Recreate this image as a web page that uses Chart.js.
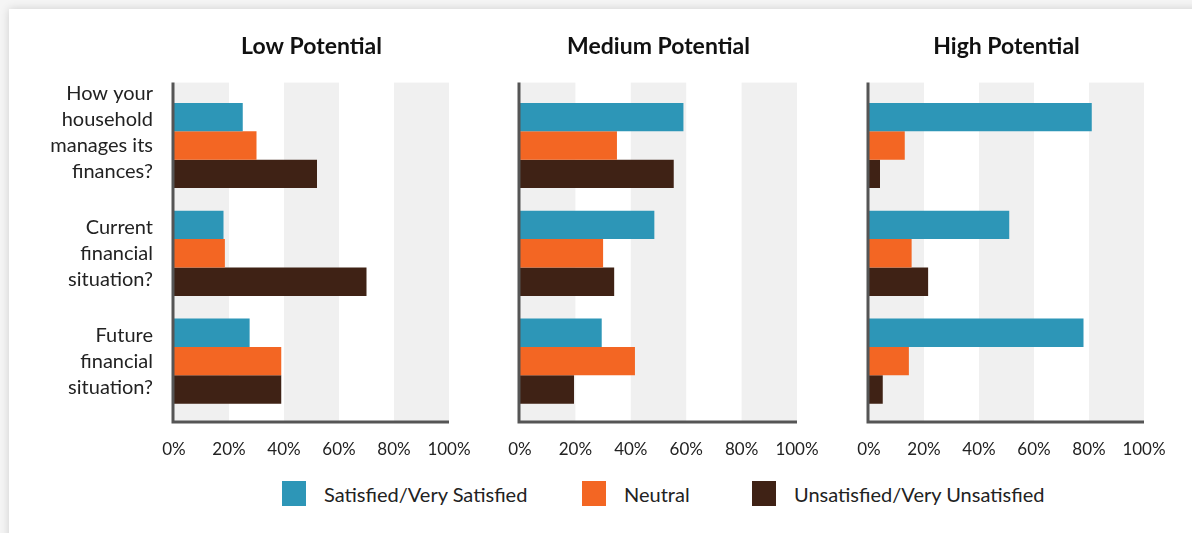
<!DOCTYPE html>
<html>
<head>
<meta charset="utf-8">
<script src="https://cdn.jsdelivr.net/npm/chart.js@4"></script>
<style>
  html, body { margin: 0; padding: 0; }
  body {
    width: 1192px;
    height: 533px;
    background: #f5f5f5;
    position: relative;
    overflow: hidden;
    font-family: Lato, "DejaVu Sans", sans-serif;
  }
  .card {
    position: absolute;
    left: 9px; top: 9px; right: -20px; bottom: -20px;
    background: #fff;
    box-shadow: 0 0 9px rgba(0, 0, 0, 0.16);
  }
  .panel { position: absolute; top: 0; height: 460px; }
  .legend-item {
    position: absolute;
    top: 481px;
    display: flex;
    align-items: center;
    font-size: 20px;
    color: #222;
  }
  .legend-item span.box { width: 24px; height: 25px; margin-right: 18px; }
</style>
</head>
<body>
<div class="card"></div>

<div class="panel" style="left:0px;width:480px"><canvas id="low"></canvas></div>
<div class="panel" style="left:490px;width:340px"><canvas id="medium"></canvas></div>
<div class="panel" style="left:839px;width:353px"><canvas id="high"></canvas></div>

<div class="legend-item" style="left:282px"><span class="box" style="background:#2d96b7"></span>Satisfied/Very Satisfied</div>
<div class="legend-item" style="left:582px"><span class="box" style="background:#f36623"></span>Neutral</div>
<div class="legend-item" style="left:752px"><span class="box" style="background:#3f2215"></span>Unsatisfied/Very Unsatisfied</div>

<script>
// survey answers, percent of respondents per question
// (empty last line on the first question nudges its label block upward)
const questions = [
  ["How your", "household", "manages its", "finances?", ""],
  ["Current", "financial", "situation?"],
  ["Future", "financial", "situation?"]
];
const seriesNames = ["Satisfied/Very Satisfied", "Neutral", "Unsatisfied/Very Unsatisfied"];
const seriesColors = ["#2d96b7", "#f36623", "#3f2215"];
const xTicks = [0, 20, 40, 60, 80, 100];

const lowSatisfied = [25, 18, 27.5];
const lowNeutral = [30, 18.5, 39];
const lowUnsatisfied = [52, 70, 39];

const mediumSatisfied = [59, 48.5, 29.5];
const mediumNeutral = [35, 30, 41.5];
const mediumUnsatisfied = [55.5, 34, 19.5];

const highSatisfied = [81, 51, 78];
const highNeutral = [13, 15.5, 14.5];
const highUnsatisfied = [4, 21.5, 5];

// the grey bands and the axis lines run a little past the bar area
const EXTEND_TOP = 9;
const EXTEND_BOTTOM = 7;

// light grey bands behind every other 20% step, plus the L-shaped axis
const bandsPlugin = {
  id: "bands",
  beforeDraw(chart) {
    const {ctx, chartArea, scales} = chart;
    const top = chartArea.top - EXTEND_TOP;
    const bottom = chartArea.bottom + EXTEND_BOTTOM;
    ctx.save();
    ctx.fillStyle = "#f0f0f0";
    for (let i = 0; i < xTicks.length - 1; i += 2) {
      const x0 = scales.x.getPixelForValue(xTicks[i]);
      const x1 = scales.x.getPixelForValue(xTicks[i + 1]);
      ctx.fillRect(x0, top, x1 - x0, bottom - top);
    }
    ctx.restore();
  },
  afterDraw(chart) {
    const {ctx, chartArea} = chart;
    const top = chartArea.top - EXTEND_TOP;
    const bottom = chartArea.bottom + EXTEND_BOTTOM;
    ctx.save();
    ctx.strokeStyle = "#555";
    ctx.lineWidth = 3;
    ctx.beginPath();
    ctx.moveTo(chartArea.left - 1, top);
    ctx.lineTo(chartArea.left - 1, bottom);
    ctx.lineTo(chartArea.right, bottom);
    ctx.stroke();
    ctx.restore();
  }
};

// fixed axis sizes so the three panels line up
function fixSize(scale, size) {
  if (scale.isHorizontal()) scale.height = size;
  else scale.width = size;
  scale.paddingTop = 0;
  scale.paddingBottom = 0;
  scale.paddingLeft = 0;
  scale.paddingRight = 0;
}

function makePanel(id, title, series, showLabels, yWidth, padRight) {
  const datasets = series.map((values, s) => ({
    label: seriesNames[s],
    data: values,
    backgroundColor: seriesColors[s],
    borderWidth: 0,
    categoryPercentage: 0.79,
    barPercentage: 1
  }));

  new Chart(document.getElementById(id), {
    type: "bar",
    data: {labels: questions, datasets: datasets},
    plugins: [bandsPlugin],
    options: {
      indexAxis: "y",
      responsive: true,
      maintainAspectRatio: false,
      animation: false,
      layout: {padding: {left: 0, right: padRight, top: 0, bottom: 0}},
      plugins: {
        legend: {display: false},
        tooltip: {enabled: false},
        title: {
          display: true,
          text: title,
          fullSize: false,
          color: "#111",
          font: {family: "Lato", size: 23, weight: "bold"},
          padding: {top: 33, bottom: 31}
        }
      },
      scales: {
        x: {
          type: "linear",
          min: 0,
          max: 100,
          grid: {display: false},
          border: {display: false},
          ticks: {
            stepSize: 20,
            padding: 16,
            maxRotation: 0,
            color: "#222",
            font: {family: "Lato", size: 17},
            callback: (v) => v + "%"
          },
          afterFit: (scale) => fixSize(scale, 45)
        },
        y: {
          grid: {display: false},
          border: {display: false},
          ticks: {
            display: showLabels,
            autoSkip: false,
            padding: 13,
            color: "#222",
            font: {family: "Lato", size: 20, lineHeight: 1.3}
          },
          afterFit: (scale) => fixSize(scale, yWidth)
        }
      }
    }
  });
}

makePanel("low", "Low Potential", [lowSatisfied, lowNeutral, lowUnsatisfied], true, 174, 31);
makePanel("medium", "Medium Potential", [mediumSatisfied, mediumNeutral, mediumUnsatisfied], false, 30, 33);
makePanel("high", "High Potential", [highSatisfied, highNeutral, highUnsatisfied], false, 30, 48);
</script>
</body>
</html>
